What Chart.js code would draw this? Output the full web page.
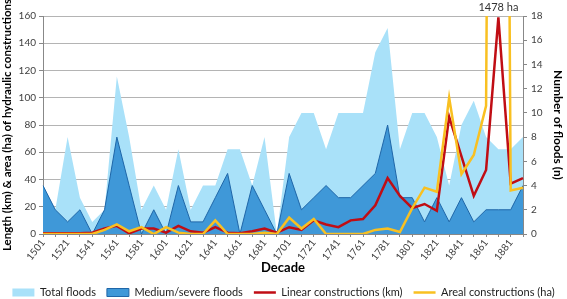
<!DOCTYPE html>
<html>
<head>
<meta charset="utf-8">
<script src="https://cdn.jsdelivr.net/npm/chart.js@4/dist/chart.umd.min.js"></script>
<style>
  html, body { margin: 0; padding: 0; background: #fff; }
  #wrap { width: 567px; height: 299px; }
</style>
</head>
<body>
<div id="wrap"><canvas id="floods-chart"></canvas></div>
<script>
// decades 1501..1891
const decades = ['1501', '1511', '1521', '1531', '1541', '1551', '1561', '1571', '1581', '1591',
    '1601', '1611', '1621', '1631', '1641', '1651', '1661', '1671', '1681', '1691',
    '1701', '1711', '1721', '1731', '1741', '1751', '1761', '1771', '1781', '1791',
    '1801', '1811', '1821', '1831', '1841', '1851', '1861', '1871', '1881', '1891'];

// number of floods (right axis)
const totalFloods = [4, 2, 8, 3, 1, 2, 13, 8, 2, 4,
    2, 7, 2, 4, 4, 7, 7, 4, 8, 0,
    8, 10, 10, 7, 10, 10, 10, 15, 17, 7,
    10, 10, 8, 4, 9, 11, 8, 7, 7, 8];
const mediumFloods = [4, 2, 1, 2, 0, 2, 8, 4, 0, 2,
    0, 4, 1, 1, 3, 5, 0, 4, 2, 0,
    5, 2, 3, 4, 3, 3, 4, 5, 9, 3,
    3, 1, 3, 1, 3, 1, 2, 2, 2, 4];

// hydraulic constructions (left axis)
const linearKm = [0.5, 0.5, 0.5, 0.5, 1, 4, 6, 0.5, 4, 4,
    1, 6, 2, 1, 5, 1, 0.5, 2, 4, 1,
    5, 3, 10, 7, 5, 10, 11, 21, 41, 28,
    19, 22, 17, 86, 57, 28, 47, 159, 37, 41];
const arealHa = [0, 0, 0, 0, 0, 3, 7, 2, 5, 0,
    5, 1, 0, 0, 10, 0, 0, 0, 1, 0,
    12, 4, 11, 0, 0, 0, 0, 3, 4, 1.5,
    19, 34, 31, 100, 44, 58, 94, 1478, 32, 34];

const peakIndex = 37;
const peakText = '1478 ha';

const fontFamily = 'Lato, "Open Sans", sans-serif';
Chart.defaults.font.family = fontFamily;
Chart.defaults.color = '#404040';

const peakLabel = {
    id: 'peakLabel',
    afterDraw(chart) {
        const ctx = chart.ctx;
        const x = chart.scales.x.getPixelForValue(peakIndex);
        ctx.save();
        ctx.font = '11px ' + fontFamily;
        ctx.fillStyle = '#333';
        ctx.textAlign = 'center';
        ctx.textBaseline = 'middle';
        ctx.fillText(peakText, x, 7);
        ctx.restore();
    }
};

const ctx = document.getElementById('floods-chart');

new Chart(ctx, {
    type: 'line',
    data: {
        labels: decades,
        datasets: [{
            label: 'Total floods',
            data: totalFloods,
            yAxisID: 'y1',
            backgroundColor: '#a9e1f9',
            borderColor: '#a9e1f9',
            borderWidth: 0,
            fill: 'origin',
            pointRadius: 0,
            pointStyle: 'rect',
            order: 4
        }, {
            label: 'Medium/severe floods',
            data: mediumFloods,
            yAxisID: 'y1',
            backgroundColor: '#3f98d8',
            borderColor: '#1f66a8',
            borderWidth: 1,
            fill: 'origin',
            pointRadius: 0,
            pointStyle: 'rect',
            order: 3
        }, {
            label: 'Linear constructions (km)',
            data: linearKm,
            yAxisID: 'y',
            borderColor: '#c00d14',
            backgroundColor: '#c00d14',
            borderWidth: 2.5,
            fill: false,
            pointRadius: 0,
            pointStyle: 'line',
            order: 2
        }, {
            label: 'Areal constructions (ha)',
            data: arealHa,
            yAxisID: 'y',
            borderColor: '#f9c021',
            backgroundColor: '#f9c021',
            borderWidth: 2.5,
            fill: false,
            pointRadius: 0,
            pointStyle: 'line',
            order: 1
        }]
    },
    options: {
        responsive: true,
        maintainAspectRatio: false,
        animation: false,
        layout: { padding: { top: 16, bottom: -9, left: 0, right: 0 } },
        elements: { line: { tension: 0 } },
        plugins: {
            tooltip: { enabled: false },
            legend: {
                position: 'bottom',
                labels: {
                    usePointStyle: true,
                    pointStyleWidth: 22,
                    boxHeight: 8,
                    padding: 11,
                    color: '#222',
                    font: { size: 11 },
                    sort: (a, b) => a.datasetIndex - b.datasetIndex
                }
            }
        },
        scales: {
            x: {
                offset: false,
                grid: { drawOnChartArea: false, tickLength: 3, tickColor: '#888' },
                border: { color: '#888' },
                ticks: {
                    autoSkip: false,
                    maxRotation: 52,
                    minRotation: 52,
                    padding: 0,
                    font: { size: 10 },
                    callback: function (val, i) {
                        return i % 2 === 0 ? this.getLabelForValue(val) : '';
                    }
                },
                title: {
                    display: true,
                    text: 'Decade',
                    color: '#000',
                    font: { size: 13, weight: 'bold' },
                    padding: { top: 0, bottom: 0 }
                },
                afterFit: (scale) => { scale.height = 42; }
            },
            y: {
                position: 'left',
                min: 0,
                max: 160,
                ticks: {
                    stepSize: 10,
                    font: { size: 10 },
                    padding: 3,
                    callback: (v) => (v % 20 === 0 ? v : '')
                },
                grid: {
                    color: (c) => (c.tick && c.tick.value % 20 === 0 ? '#b4b4b4' : 'rgba(0,0,0,0)'),
                    tickColor: '#888',
                    tickLength: 4
                },
                border: { color: '#888' },
                title: {
                    display: true,
                    text: 'Length (km) & area (ha) of hydraulic constructions',
                    color: '#000',
                    font: { size: 11.5, weight: 'bold' },
                    padding: { top: 0, bottom: 2 }
                },
                afterFit: (scale) => { scale.width = 43; }
            },
            y1: {
                position: 'right',
                min: 0,
                max: 18,
                ticks: {
                    stepSize: 1,
                    font: { size: 10 },
                    padding: 4,
                    callback: (v) => (v % 2 === 0 ? v : '')
                },
                grid: { drawOnChartArea: false, tickColor: '#888', tickLength: 4 },
                border: { color: '#888' },
                title: {
                    display: true,
                    text: 'Number of floods (n)',
                    color: '#000',
                    font: { size: 12, weight: 'bold' },
                    padding: { top: 2, bottom: 0 }
                },
                afterFit: (scale) => { scale.width = 44; }
            }
        }
    },
    plugins: [peakLabel]
});
</script>
</body>
</html>
